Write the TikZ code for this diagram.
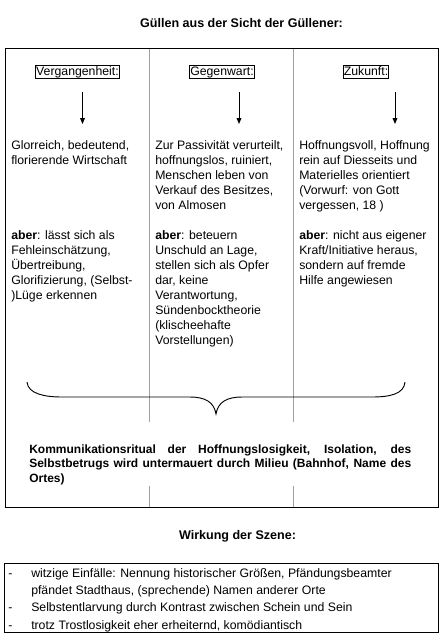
\documentclass[tikz,border=0pt]{standalone}
\usepackage{fontspec}
\setmainfont{Liberation Sans}
\usetikzlibrary{arrows.meta}
\definecolor{rulegray}{HTML}{A0A0A0}
\definecolor{inkblack}{HTML}{000000}
\newcommand{\listdash}{\makebox[17.25pt][l]{-}}
\newcommand{\listgap}{\hspace*{17.25pt}}

\begin{document}
\begin{tikzpicture}[x=0.75pt, y=-0.75pt, >={Triangle[length=4.5pt, width=3.6pt]},
  coltext/.style={anchor=base west, inner sep=0pt, align=left, text=inkblack,
    font=\fontsize{9.2}{11.25}\selectfont},
  headbox/.style={draw=inkblack, line width=0.75pt, inner sep=0.6pt,
    text height=6.6pt, text depth=1.9pt, font=\fontsize{9.2}{11}\selectfont},
  headtitle/.style={anchor=base, inner sep=0pt, font=\fontsize{9.4}{11}\selectfont\bfseries},
  downarrow/.style={->, line width=0.75pt, inkblack}]

\useasboundingbox (0,0) rectangle (444,642);

% Title
\node[headtitle] (guellenTitle) at (241.5,28) {Güllen aus der Sicht der Güllener:};

% --- Main table ---
\draw[inkblack, line width=0.75pt] (5,49) rectangle (438,507);
\draw[rulegray, line width=0.75pt] (149,49) -- (149,422) (149,486) -- (149,507);
\draw[rulegray, line width=0.75pt] (293,49) -- (293,422) (293,486) -- (293,507);

% Column heads
\node[headbox] (vergangen) at (77.5,72) {Vergangenheit:};
\node[headbox] (gegenwart) at (222,72) {Gegenwart:};
\node[headbox] (zukunft) at (366,72) {Zukunft:};

% Arrows
\coordinate (vgTop) at (82.5,92);
\coordinate (vgTip) at (82.5,124);
\coordinate (gwTop) at (239,92);
\coordinate (gwTip) at (239,124);
\coordinate (zkTop) at (395,92);
\coordinate (zkTip) at (395,124);
\draw[downarrow] (vgTop) -- (vgTip);
\draw[downarrow] (gwTop) -- (gwTip);
\draw[downarrow] (zkTop) -- (zkTip);

% --- Vergangenheit (base = last line) ---
\node[coltext] (vgText) at (11,164) {Glorreich, bedeutend,\\florierende Wirtschaft};
\node[coltext] (vgAber) at (11,299) {\textbf{aber}: lässt sich als\\Fehleinschätzung,\\Übertreibung,\\Glorifizierung, (Selbst-\\)Lüge erkennen};

% --- Gegenwart ---
\node[coltext] (gwText) at (155,209) {Zur Passivität verurteilt,\\hoffnungslos, ruiniert,\\Menschen leben von\\Verkauf des Besitzes,\\von Almosen};
\node[coltext] (gwAber) at (155,344) {\textbf{aber}: beteuern\\Unschuld an Lage,\\stellen sich als Opfer\\dar, keine\\Verantwortung,\\Sündenbocktheorie\\(klischeehafte\\Vorstellungen)};

% --- Zukunft ---
\node[coltext] (zkText) at (299,209) {Hoffnungsvoll, Hoffnung\\rein auf Diesseits und\\Materielles orientiert\\(Vorwurf: von Gott\\vergessen, 18 )};
\node[coltext] (zkAber) at (299,284) {\textbf{aber}: nicht aus eigener\\Kraft/Initiative heraus,\\sondern auf fremde\\Hilfe angewiesen};

% Brace
\draw[inkblack, line width=0.7pt] (27,382) .. controls (28,394) and (45,397) .. (62,397)
  -- (190,397) .. controls (205,397) and (214,402) .. (216,414)
  .. controls (218,402) and (227,397) .. (242,397)
  -- (372,397) .. controls (390,397) and (404,394) .. (405,382);

% Summary (base = first line)
\node[anchor=base west, inner sep=0pt, text width=286.5pt, align=justify,
  font=\fontsize{9}{10.9}\selectfont\bfseries] (ritual) at (29,453)
  {\noindent Kommunikationsritual der Hoffnungslosigkeit, Isolation, des\linebreak
   Selbstbetrugs wird untermauert durch Milieu (Bahnhof, Name des\linebreak Ortes)};

% --- Wirkung ---
\node[headtitle] (wirkungTitle) at (237.5,539) {Wirkung der Szene:};
\draw[inkblack, line width=0.75pt] (4,563) rectangle (438,632);
\node[coltext, font=\fontsize{9.2}{13}\selectfont] (wirkung) at (8,629)
  {\listdash witzige Einfälle: Nennung historischer Größen, Pfändungsbeamter\\
   \listgap pfändet Stadthaus, (sprechende) Namen anderer Orte\\
   \listdash Selbstentlarvung durch Kontrast zwischen Schein und Sein\\
   \listdash trotz Trostlosigkeit eher erheiternd, komödiantisch};

\end{tikzpicture}
\end{document}
